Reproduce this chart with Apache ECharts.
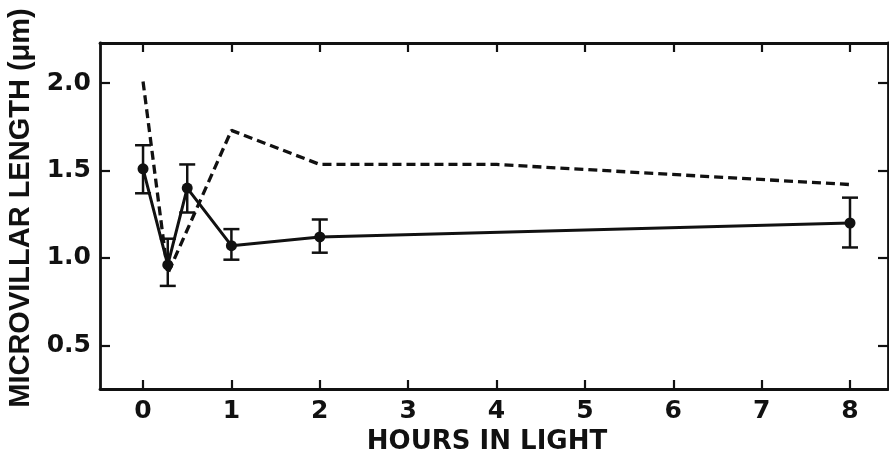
<!DOCTYPE html>
<html>
<head>
<meta charset="utf-8">
<script src="https://cdn.jsdelivr.net/npm/echarts@6/dist/echarts.min.js"></script>
<style>html,body{margin:0;padding:0;background:#fff}#c{width:889px;height:450px}</style>
</head>
<body>
<div id="c"></div>
<script>
// Solid line: mean microvillar length with error bars
const hours = [0, 0.28, 0.5, 1, 2, 8];
const meanLength = [1.51, 0.96, 1.40, 1.07, 1.12, 1.20];
const errLow = [1.37, 0.84, 1.26, 0.99, 1.03, 1.06];
const errHigh = [1.645, 1.11, 1.535, 1.165, 1.22, 1.345];
// Dashed line
const dashHours = [0, 0.28, 1, 2, 4, 8];
const dashLength = [2.01, 0.91, 1.73, 1.535, 1.535, 1.42];
// Tick values
const xTicks = [0, 1, 2, 3, 4, 5, 6, 7, 8];
const yTicks = [0.5, 1.0, 1.5, 2.0];

const ink = '#111';
const chart = echarts.init(document.getElementById('c'));
const tickLabelFont = {color: ink, fontFamily: 'DejaVu Sans', fontWeight: 'bold', fontSize: 25};

const axisCommon = {
  axisLine: {show: true, onZero: false, lineStyle: {color: ink, width: 2.8}},
  splitLine: {show: false}
};

chart.setOption({
  backgroundColor: '#fff',
  animation: false,
  grid: {left: 100, right: 1, top: 43, bottom: 61, containLabel: false, outerBoundsMode: 'none'},
  xAxis: [
    Object.assign({
      type: 'value', position: 'bottom', min: -0.487, max: 8.43,
      name: 'HOURS IN LIGHT', nameLocation: 'middle', nameGap: 35,
      nameTextStyle: {color: ink, fontFamily: 'DejaVu Sans', fontWeight: 'bold', fontSize: 26, padding: [0, 14, 0, 0]},
      axisTick: {show: true, inside: true, length: 9, lineStyle: {color: ink, width: 2.2}, customValues: xTicks},
      axisLabel: Object.assign({margin: 10, customValues: xTicks, formatter: v => String(v)}, tickLabelFont)
    }, axisCommon),
    Object.assign({
      type: 'value', position: 'top', min: -0.487, max: 8.43,
      axisTick: {show: true, inside: true, length: 9, lineStyle: {color: ink, width: 2.2}, customValues: xTicks},
      axisLabel: {show: false}
    }, axisCommon)
  ],
  yAxis: [
    Object.assign({
      type: 'value', position: 'left', min: 0.25, max: 2.23,
      name: 'MICROVILLAR LENGTH (μm)', nameLocation: 'middle', nameGap: 57,
      nameTextStyle: {color: ink, fontFamily: 'Liberation Sans', fontWeight: 'bold', fontSize: 29, padding: [0, 0, 0, 16]},
      axisTick: {show: true, inside: true, length: 10, lineStyle: {color: ink, width: 2.2}, customValues: yTicks},
      axisLabel: Object.assign({margin: 9, customValues: yTicks, formatter: v => v.toFixed(1)}, tickLabelFont)
    }, axisCommon),
    Object.assign({
      type: 'value', position: 'right', min: 0.25, max: 2.23,
      axisTick: {show: true, inside: true, length: 10, lineStyle: {color: ink, width: 2.2}, customValues: yTicks},
      axisLabel: {show: false}
    }, axisCommon)
  ],
  series: [
    {
      type: 'line', name: 'dashed',
      data: dashHours.map((h, i) => [h, dashLength[i]]),
      showSymbol: false, symbol: 'none',
      lineStyle: {color: ink, width: 3.3, type: [9, 5]},
      z: 2
    },
    {
      type: 'line', name: 'mean',
      data: hours.map((h, i) => [h, meanLength[i]]),
      symbol: 'circle', symbolSize: 11,
      itemStyle: {color: ink},
      lineStyle: {color: ink, width: 3},
      z: 3
    },
    {
      type: 'custom', name: 'error',
      data: hours.map((h, i) => [h, errLow[i], errHigh[i]]),
      renderItem: function (params, api) {
        const x = api.value(0);
        const lo = api.coord([x, api.value(1)]);
        const hi = api.coord([x, api.value(2)]);
        const hw = 8;
        const st = {stroke: ink, lineWidth: 2.5};
        return {
          type: 'group',
          children: [
            {type: 'line', shape: {x1: lo[0], y1: lo[1], x2: hi[0], y2: hi[1]}, style: st},
            {type: 'line', shape: {x1: lo[0] - hw, y1: lo[1], x2: lo[0] + hw, y2: lo[1]}, style: st},
            {type: 'line', shape: {x1: hi[0] - hw, y1: hi[1], x2: hi[0] + hw, y2: hi[1]}, style: st}
          ]
        };
      },
      z: 4
    }
  ]
});
</script>
</body>
</html>
